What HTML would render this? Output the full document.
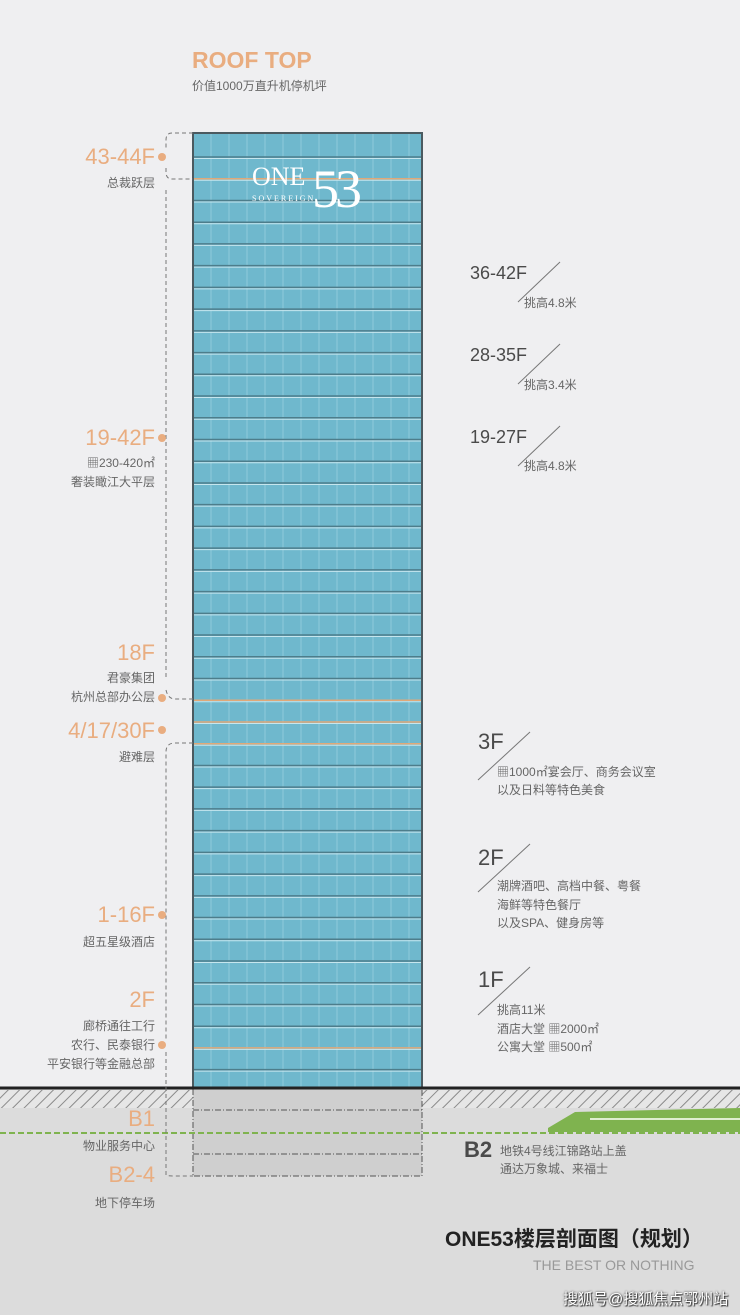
<!DOCTYPE html>
<html><head><meta charset="utf-8"><style>
body{margin:0;width:740px;height:1315px;background:#efeff1;position:relative;overflow:hidden;font-family:"Liberation Sans","Noto Sans CJK SC",sans-serif}
.t{position:absolute;white-space:nowrap;line-height:1}
.o{color:#e9ad80;font-size:22px}
.g{color:#666;font-size:12px}
.r{text-align:right;right:585px}
.d{color:#4a4a4a;font-size:18px}
</style></head><body>
<svg width="740" height="1315" style="position:absolute;left:0;top:0">
<defs>
<pattern id="h" width="8" height="8" patternUnits="userSpaceOnUse" patternTransform="rotate(45)"><rect width="8" height="8" fill="#e6e6e6"/><line x1="0" y1="0" x2="0" y2="8" stroke="#8a8a8a" stroke-width="2"/></pattern>
</defs>
<rect x="0" y="1088" width="740" height="227" fill="#dcdcdc"/>
<rect x="0" y="1090" width="740" height="18" fill="url(#h)"/>
<rect x="193" y="1088" width="229" height="88" fill="#cfcfcf"/>
<g stroke="#555" stroke-dasharray="6,2,1,2" fill="none" stroke-width="1">
<rect x="193" y="1088" width="229" height="88"/>
<line x1="193" y1="1110" x2="422" y2="1110"/><line x1="193" y1="1154" x2="422" y2="1154"/>
</g>
<line x1="0" y1="1133" x2="740" y2="1133" stroke="#7fb34f" stroke-width="2" stroke-dasharray="6,3"/>
<path d="M548 1128 L575 1112 L740 1108 L740 1132 L548 1132Z" fill="#7fb34f"/>
<line x1="590" y1="1119" x2="740" y2="1119" stroke="#dfeed0" stroke-width="2"/>
<rect x="193" y="133" width="229" height="955" fill="#6fb8cd"/>
<g stroke="#8fcadb" stroke-width="1">
<line x1="211" y1="133" x2="211" y2="1088"/><line x1="229" y1="133" x2="229" y2="1088"/><line x1="247" y1="133" x2="247" y2="1088"/><line x1="265" y1="133" x2="265" y2="1088"/><line x1="283" y1="133" x2="283" y2="1088"/><line x1="301" y1="133" x2="301" y2="1088"/><line x1="319" y1="133" x2="319" y2="1088"/><line x1="337" y1="133" x2="337" y2="1088"/><line x1="355" y1="133" x2="355" y2="1088"/><line x1="373" y1="133" x2="373" y2="1088"/><line x1="391" y1="133" x2="391" y2="1088"/><line x1="409" y1="133" x2="409" y2="1088"/>
</g>
<g id="fl"></g>
<rect x="193" y="133" width="229" height="955" fill="none" stroke="#4b5a60" stroke-width="2"/>
<line x1="0" y1="1088" x2="740" y2="1088" stroke="#222" stroke-width="3"/>
<g stroke="#777" stroke-dasharray="4,3" fill="none">
<path d="M193 133 H172 Q166 133 166 140 V150"/><path d="M166 168 V172 Q166 179 172 179 H193"/>
<path d="M166 190 V680"/><path d="M166 690 Q168 699 175 699 H193"/>
<path d="M193 743 H175 Q166 743 166 752 V1040"/>
<path d="M166 1052 V1175 Q166 1176 175 1176 H193"/>
</g>
<g fill="#e9ad80"><circle cx="162" cy="157" r="4"/><circle cx="162" cy="438" r="4"/><circle cx="162" cy="698" r="4"/><circle cx="162" cy="730" r="4"/><circle cx="162" cy="915" r="4"/><circle cx="162" cy="1045" r="4"/></g>
<g stroke="#777" stroke-width="1">
<line x1="518" y1="302" x2="560" y2="262"/><line x1="518" y1="384" x2="560" y2="344"/><line x1="518" y1="466" x2="560" y2="426"/>
<line x1="478" y1="780" x2="530" y2="732"/><line x1="478" y1="892" x2="530" y2="844"/><line x1="478" y1="1015" x2="530" y2="967"/>
</g>
<text x="252" y="185" fill="#fff" font-family="Liberation Serif" font-size="26">ONE</text>
<text x="312" y="207" fill="#fff" font-family="Liberation Serif" font-size="54">5</text>
<text x="335" y="207" fill="#fff" font-family="Liberation Serif" font-size="54">3</text>
<text x="252" y="201" fill="#fff" font-family="Liberation Serif" font-size="8" letter-spacing="2">SOVEREIGN</text>
</svg>
<script>
var g=document.getElementById('fl'),s='';
for(var i=0;i<43;i++){var y=157+i*21.73;if(y>1080)break;var or=[1,25,26,27,41].indexOf(i)>=0;
s+='<line x1="193" x2="422" y1="'+y+'" y2="'+y+'" stroke="'+(or?'#e0a878':'#4d7d8b')+'" stroke-width="1.5"/><line x1="193" x2="422" y1="'+(y+1.5)+'" y2="'+(y+1.5)+'" stroke="#c6e6ee" stroke-width="1"/>';}
g.innerHTML=s;
</script>
<div class="t o" style="left:192px;top:49px;font-size:23px;font-weight:bold">ROOF TOP</div>
<div class="t g" style="left:192px;top:80px">价值1000万直升机停机坪</div>

<div class="t o r" style="top:146px">43-44F</div>
<div class="t g r" style="top:177px">总裁跃层</div>
<div class="t o r" style="top:427px">19-42F</div>
<div class="t g r" style="top:457px">▦230-420㎡</div>
<div class="t g r" style="top:476px">奢装瞰江大平层</div>
<div class="t o r" style="top:642px">18F</div>
<div class="t g r" style="top:672px">君豪集团</div>
<div class="t g r" style="top:691px">杭州总部办公层</div>
<div class="t o r" style="top:720px">4/17/30F</div>
<div class="t g r" style="top:751px">避难层</div>
<div class="t o r" style="top:904px">1-16F</div>
<div class="t g r" style="top:936px">超五星级酒店</div>
<div class="t o r" style="top:989px">2F</div>
<div class="t g r" style="top:1020px">廊桥通往工行</div>
<div class="t g r" style="top:1039px">农行、民泰银行</div>
<div class="t g r" style="top:1058px">平安银行等金融总部</div>
<div class="t o r" style="top:1108px">B1</div>
<div class="t g r" style="top:1140px">物业服务中心</div>
<div class="t o r" style="top:1164px">B2-4</div>
<div class="t g r" style="top:1197px">地下停车场</div>

<div class="t d" style="left:470px;top:264px">36-42F</div>
<div class="t g" style="left:524px;top:297px">挑高4.8米</div>
<div class="t d" style="left:470px;top:346px">28-35F</div>
<div class="t g" style="left:524px;top:379px">挑高3.4米</div>
<div class="t d" style="left:470px;top:428px">19-27F</div>
<div class="t g" style="left:524px;top:460px">挑高4.8米</div>
<div class="t d" style="left:478px;top:731px;font-size:22px">3F</div>
<div class="t g" style="left:497px;top:766px">▦1000㎡宴会厅、商务会议室</div>
<div class="t g" style="left:497px;top:784px">以及日料等特色美食</div>
<div class="t d" style="left:478px;top:847px;font-size:22px">2F</div>
<div class="t g" style="left:497px;top:880px">潮牌酒吧、高档中餐、粤餐</div>
<div class="t g" style="left:497px;top:899px">海鲜等特色餐厅</div>
<div class="t g" style="left:497px;top:917px">以及SPA、健身房等</div>
<div class="t d" style="left:478px;top:969px;font-size:22px">1F</div>
<div class="t g" style="left:497px;top:1004px">挑高11米</div>
<div class="t g" style="left:497px;top:1023px">酒店大堂 ▦2000㎡</div>
<div class="t g" style="left:497px;top:1041px">公寓大堂 ▦500㎡</div>
<div class="t d" style="left:464px;top:1139px;font-size:22px;font-weight:bold">B2</div>
<div class="t g" style="left:500px;top:1145px">地铁4号线江锦路站上盖</div>
<div class="t g" style="left:500px;top:1163px">通达万象城、来福士</div>

<div class="t" style="left:445px;top:1229px;font-size:21px;font-weight:bold;color:#222">ONE53楼层剖面图（规划）</div>
<div class="t" style="left:533px;top:1258px;font-size:14px;color:#999">THE BEST OR NOTHING</div>
<div class="t" style="left:563px;top:1292px;font-size:15px;color:#fff;text-shadow:0 0 2px #333,1px 1px 1px #333">搜狐号@搜狐焦点鄂州站</div>
</body></html>
